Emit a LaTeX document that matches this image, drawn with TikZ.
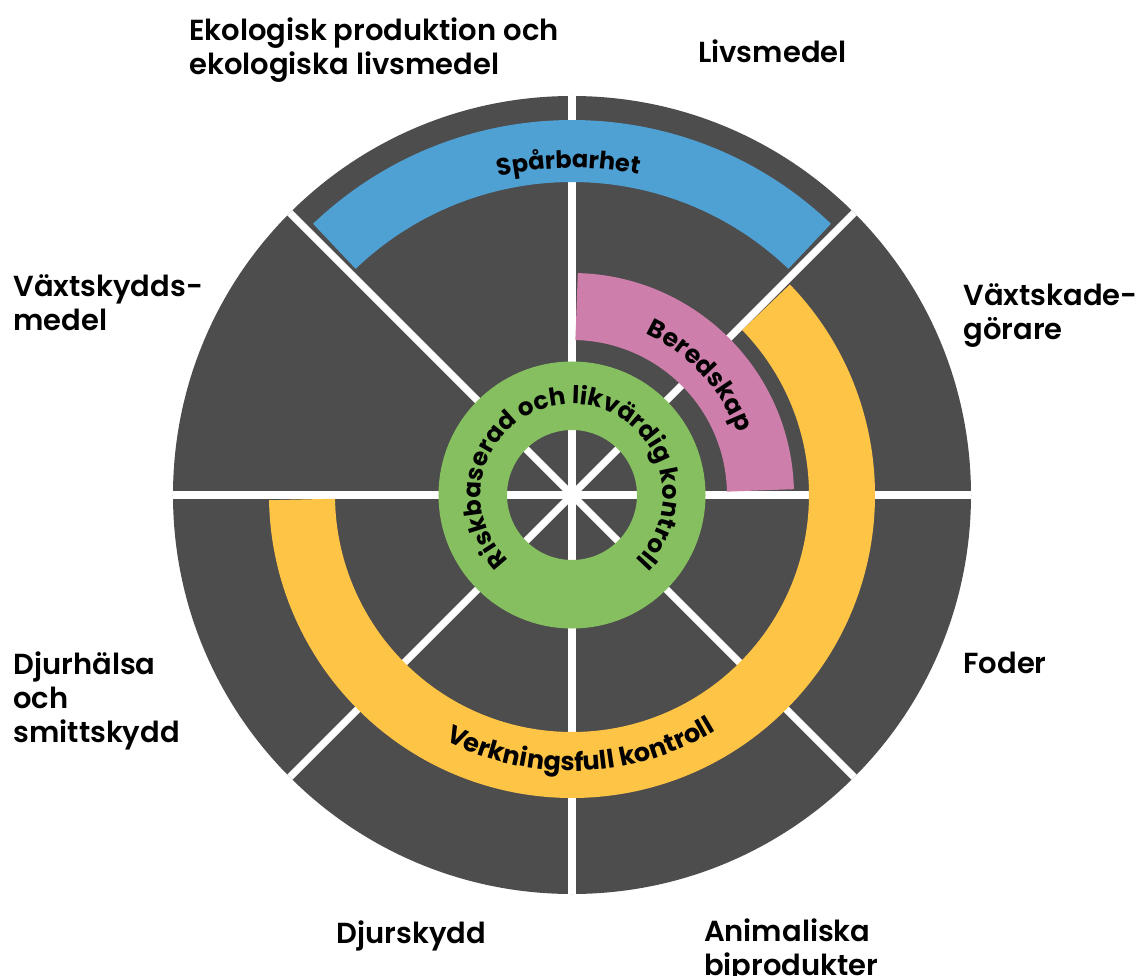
\documentclass[tikz,border=0pt]{standalone}
\usepackage{fontspec}
\setmainfont{Poppins}
\newfontfamily\labelfont{Poppins SemiBold}
\usetikzlibrary{decorations.text}

\definecolor{wheelgrey}{RGB}{77,77,77}
\definecolor{spblue}{RGB}{80,161,211}
\definecolor{bpink}{RGB}{206,126,171}
\definecolor{vyellow}{RGB}{254,196,69}
\definecolor{rgreen}{RGB}{134,191,95}

\begin{document}
\begin{tikzpicture}[x=1pt,y=1pt,
  lbl/.style={anchor=base west, align=left, inner sep=0pt, font=\labelfont\fontsize{29}{34}\selectfont},
  spoke/.style={draw=white, line width=7.4pt},
  band/.style={line width=#1}
]
\useasboundingbox (-572,-480) rectangle (568,495);

%Shape: Circle [id:wheel]
\fill[wheelgrey] (0,0) circle[radius=399];
%Straight Lines [id:spokes]
\foreach \a in {0,45,...,315}
  \draw[spoke] (0,0) -- (\a:399);

%Shape: Arc [id:sparbarhet]
\draw[band=62pt, spblue] (46.3:344) arc[start angle=46.3, end angle=133.7, radius=344];
%Shape: Arc [id:beredskap]
\draw[band=67pt, bpink] (1.4:188.5) arc[start angle=1.4, end angle=88.6, radius=188.5];
%Shape: Arc [id:verkningsfull]
\draw[band=66pt, vyellow] (44.05:270) arc[start angle=44.05, end angle=-179.05, radius=270];
%Shape: Circle [id:riskbaserad]
\draw[band=68.5pt, rgreen] (0,0) circle[radius=99.25];

% Text along arcs
\path[decorate, decoration={text along path, text align=center,
  text={|\bfseries\fontsize{24}{24}\selectfont|Spårbarhet}}]
  (150.6:327) arc[start angle=150.6, end angle=30.6, radius=327];
\path[decorate, decoration={text along path, text align=center,
  text={|\bfseries\fontsize{25}{25}\selectfont|Beredskap}}]
  (88:177) arc[start angle=88, end angle=-2, radius=177];
\path[decorate, decoration={text along path, text align=center,
  text={|\bfseries\fontsize{25.5}{25.5}\selectfont|Verkningsfull kontroll}}]
  (202:276) arc[start angle=202, end angle=342, radius=276];
\path[decorate, decoration={text along path, text align=center,
  text={|\bfseries\fontsize{24.5}{24.5}\selectfont|Riskbaserad och likvärdig kontroll}}]
  (240:91) arc[start angle=240, end angle=-60, radius=91];

% Text Node
\node[lbl] (ekologisk) at (-383,420.3) {Ekologisk produktion och\\ekologiska livsmedel};
% Text Node
\node[lbl] (livsmedel) at (126,432) {Livsmedel};
% Text Node
\node[lbl] (vaxtskyddsmedel) at (-558.7,164.3) {Växtskydds-\\medel};
% Text Node
\node[lbl] (vaxtskadegorare) at (391.3,156) {Växtskade-\\görare};
% Text Node
\node[lbl] (foder) at (391.3,-178.3) {Foder};
% Text Node
\node[lbl] (djurhalsa) at (-558.7,-247) {Djurhälsa\\och\\smittskydd};
% Text Node
\node[lbl] (djurskydd) at (-235.5,-448.5) {Djurskydd};
% Text Node
\node[lbl] (animaliska) at (131.8,-480) {Animaliska\\biprodukter};

\end{tikzpicture}
\end{document}
